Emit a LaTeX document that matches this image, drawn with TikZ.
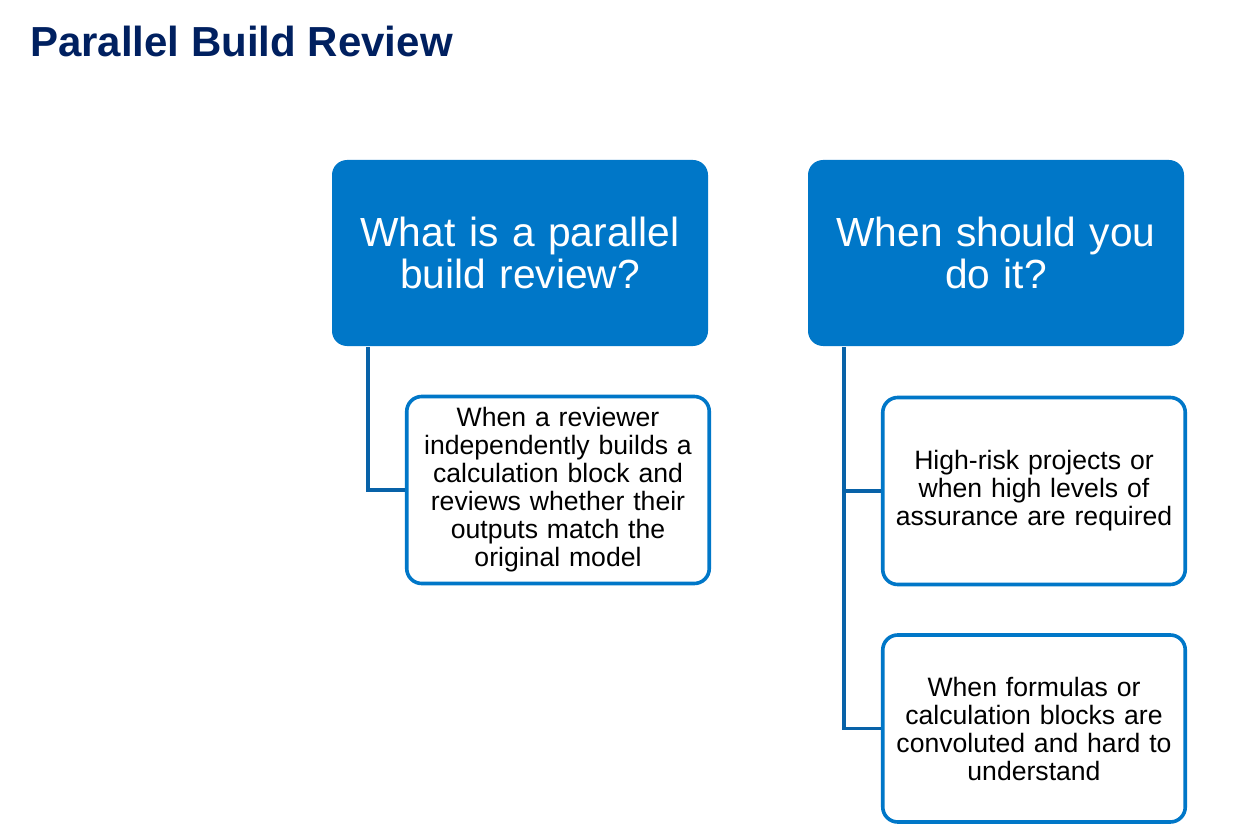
\documentclass[tikz,border=0pt]{standalone}
\usepackage{fontspec}
\setmainfont{Liberation Sans}
\definecolor{titlenavy}{RGB}{0,32,96}
\definecolor{boxblue}{RGB}{0,119,200}
\definecolor{linkblue}{RGB}{8,98,168}
\begin{document}
\begin{tikzpicture}[x=1pt,y=-1pt,
  headbox/.style={rectangle, rounded corners=15pt, fill=boxblue, text=white,
    minimum width=376pt, minimum height=186pt, inner sep=0pt, text width=366pt,
    align=center, font=\fontsize{40.7}{42}\selectfont},
  childbox/.style={rectangle, rounded corners=15pt, draw=boxblue, line width=3.6pt, fill=white,
    minimum width=302.5pt, minimum height=187pt, inner sep=0pt, text width=298pt,
    align=center, font=\fontsize{26.6}{28}\selectfont},
  link/.style={draw=linkblue, line width=3.6pt}]
\path[use as bounding box, fill=white] (0,0) rectangle (1258,826);
\node[anchor=base west, text=titlenavy, inner sep=0pt, font=\bfseries\fontsize{42}{44}\selectfont] (title) at (30,57) {Parallel Build Review};
\node[headbox] (h1) at (520,253) {What is a parallel\\build review?};
\node[headbox] (h2) at (996,253) {When should you\\do it?};
\node[childbox] (c1) at (558,490) {When a reviewer\\independently builds a\\calculation block and\\reviews whether their\\outputs match the\\original model};
\node[childbox] (c2) at (1034,491) {High-risk projects or\\when high levels of\\assurance are required};
\node[childbox] (c3) at (1034,728.5) {When formulas or\\calculation blocks are\\convoluted and hard to\\understand};
\path[link] (h1.south west) ++(36,1) |- (c1.west);
\path[link] (h2.south west) ++(36,1) |- (c2.west);
\path[link] (h2.south west) ++(36,1) |- (c3.west);
\end{tikzpicture}
\end{document}
